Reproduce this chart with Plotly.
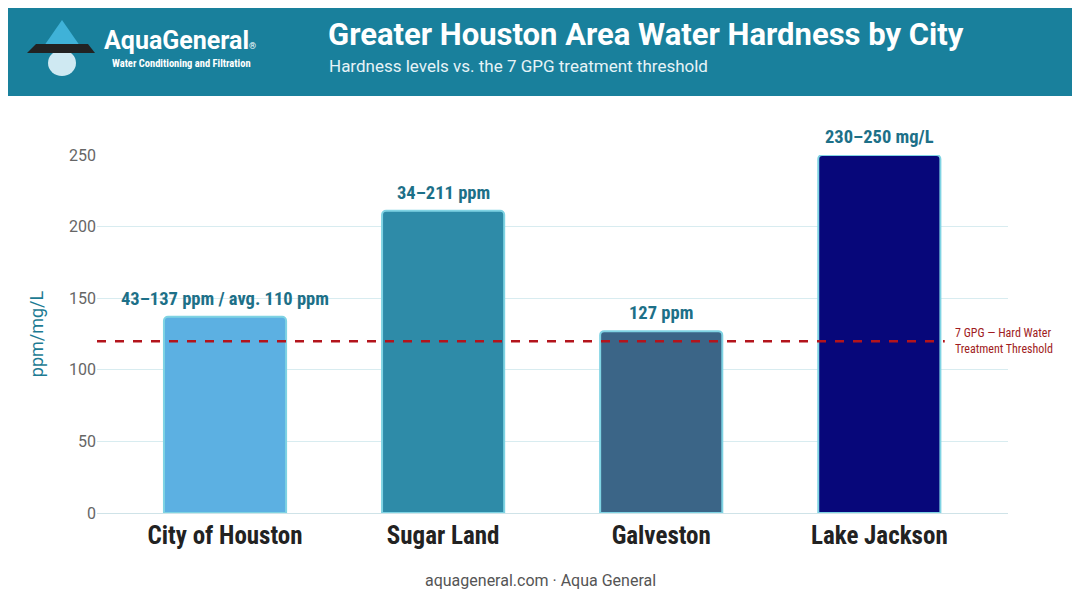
import plotly.graph_objects as go

cities = ["City of Houston", "Sugar Land", "Galveston", "Lake Jackson"]
values = [137, 211, 127, 250]
labels = ["43–137 ppm / avg. 110 ppm", "34–211 ppm", "127 ppm", "230–250 mg/L"]
colors = ["#5cb0e2", "#2e8ba8", "#3b6587", "#07077a"]
threshold = 120
yticks = [0, 50, 100, 150, 200, 250]

OFF = 8  # page body margin
W, H = 1080 - OFF, 603 - OFF
L, R, T, B = 97 - OFF, 72, 155 - OFF, 90
PW, PH = W - L - R, H - T - B

def px(x): return (x - OFF - L) / PW
def py(y): return (H - B - (y - OFF)) / PH

xs = list(range(len(cities)))
fig = go.Figure()
fig.add_trace(go.Bar(x=xs, y=values, width=0.56, marker=dict(color=colors, line=dict(color="#7fd3e3", width=2), cornerradius=4),
                     hoverinfo="skip"))
for xi, v, t in zip(xs, values, labels):
    fig.add_annotation(x=xi, y=v, text=f"<b>{t}</b>", yanchor="bottom", yshift=5, showarrow=False,
                       font=dict(family="Roboto Condensed, Roboto", size=18.5, color="#1d7088"))
fig.add_shape(type="line", x0=-0.587, x1=3.3, y0=threshold, y1=threshold, line=dict(color="#b3141c", width=2.5, dash="dash"))
fig.add_annotation(x=3.34, xanchor="left", y=threshold, yanchor="middle",
                   text="7 GPG — Hard Water<br>Treatment Threshold", align="left", showarrow=False,
                   font=dict(family="Roboto Condensed, Roboto", size=12, color="#a01c22"))

shapes = [
    dict(type="rect", xref="paper", yref="paper", x0=px(0), x1=px(1090), y0=py(0), y1=py(96), fillcolor="#19809c", line_width=0),
    dict(type="path", xref="paper", yref="paper", path=f"M {px(62)} {py(20)} L {px(44)} {py(46)} L {px(80)} {py(46)} Z", fillcolor="#3fb2d8", line_width=0),
    dict(type="circle", xref="paper", yref="paper", x0=px(48), x1=px(76), y0=py(50), y1=py(76), fillcolor="#cfe9f2", line_width=0),
    dict(type="path", xref="paper", yref="paper", path=f"M {px(27)} {py(53)} L {px(36)} {py(44)} L {px(88)} {py(44)} L {px(95)} {py(53)} Z", fillcolor="#222222", line_width=0),
]
for s in shapes:
    fig.add_shape(**s)

anns = [
    dict(x=px(102), y=py(40), text="<b>AquaGeneral</b><span style='font-size:9px'>®</span>", font=dict(family="Roboto", size=25, color="white")),
    dict(x=px(110), y=py(64), text="<b>Water Conditioning and Filtration</b>", font=dict(family="Roboto Condensed, Roboto", size=10.5, color="white")),
    dict(x=px(326), y=py(35), text="<b>Greater Houston Area Water Hardness by City</b>", font=dict(family="Roboto", size=31, color="white")),
    dict(x=px(327), y=py(66), text="Hardness levels vs. the 7 GPG treatment threshold", font=dict(family="Roboto", size=17, color="#e6f3f7")),
    dict(x=px(540), y=py(580), text="aquageneral.com · Aqua General", font=dict(family="Roboto", size=16, color="#555555")),
]
for a in anns:
    a.update(xref="paper", yref="paper", showarrow=False, yanchor="middle", xanchor="center" if "aquageneral.com" in a["text"] else "left")
    fig.add_annotation(**a)

fig.update_layout(
    width=W, height=H, margin=dict(l=L, r=R, t=T, b=B, autoexpand=False), plot_bgcolor="white", paper_bgcolor="white",
    showlegend=False,
    xaxis=dict(tickvals=xs, ticktext=[f"<b>{c}</b>" for c in cities], range=[-0.587, 3.59], showgrid=False, automargin=False,
               showline=True, linecolor="#cfe3e8", ticks="", tickfont=dict(family="Roboto Condensed, Roboto", size=25, color="#222")),
    yaxis=dict(range=[0, 250], tickvals=yticks, gridcolor="#d8ecf0", zeroline=False, ticks="", automargin=False,
               tickfont=dict(family="Roboto", size=16, color="#666"),
               title=dict(text="ppm/mg/L", font=dict(family="Roboto", size=18, color="#1d7b93"), standoff=20)),
)
fig.write_html("out.html")
